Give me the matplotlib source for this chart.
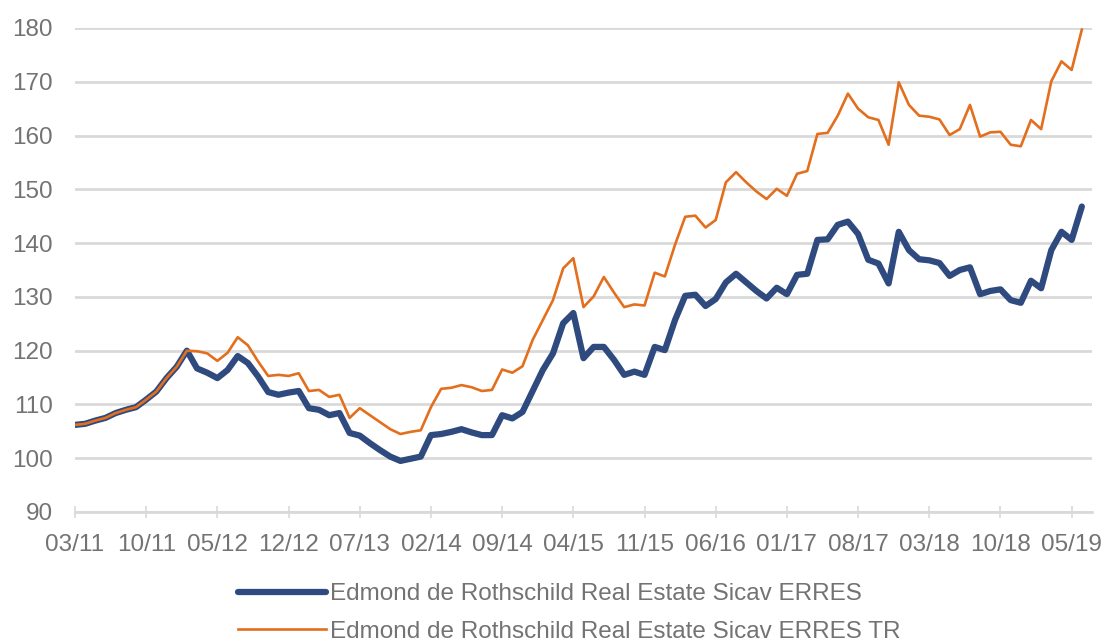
import matplotlib
matplotlib.use("Agg")
import matplotlib.pyplot as plt

# monthly index values, 03/11 .. 06/19
months = ["03/11", "04/11", "05/11", "06/11", "07/11", "08/11", "09/11", "10/11", "11/11", "12/11",
          "01/12", "02/12", "03/12", "04/12", "05/12", "06/12", "07/12", "08/12", "09/12", "10/12",
          "11/12", "12/12", "01/13", "02/13", "03/13", "04/13", "05/13", "06/13", "07/13", "08/13",
          "09/13", "10/13", "11/13", "12/13", "01/14", "02/14", "03/14", "04/14", "05/14", "06/14",
          "07/14", "08/14", "09/14", "10/14", "11/14", "12/14", "01/15", "02/15", "03/15", "04/15",
          "05/15", "06/15", "07/15", "08/15", "09/15", "10/15", "11/15", "12/15", "01/16", "02/16",
          "03/16", "04/16", "05/16", "06/16", "07/16", "08/16", "09/16", "10/16", "11/16", "12/16",
          "01/17", "02/17", "03/17", "04/17", "05/17", "06/17", "07/17", "08/17", "09/17", "10/17",
          "11/17", "12/17", "01/18", "02/18", "03/18", "04/18", "05/18", "06/18", "07/18", "08/18",
          "09/18", "10/18", "11/18", "12/18", "01/19", "02/19", "03/19", "04/19", "05/19", "06/19"]

erres = [106.2, 106.4, 107.0, 107.5, 108.4, 109.0, 109.5, 110.9, 112.4, 114.9,
         117.0, 120.0, 116.7, 115.9, 114.9, 116.4, 119.0, 117.7, 115.2, 112.3,
         111.8, 112.2, 112.5, 109.3, 109.0, 108.0, 108.4, 104.7, 104.2, 102.8,
         101.5, 100.3, 99.5, 99.9, 100.3, 104.3, 104.5, 104.9, 105.4, 104.8,
         104.3, 104.3, 108.0, 107.4, 108.6, 112.5, 116.4, 119.5, 125.1, 127.0,
         118.6, 120.7, 120.7, 118.3, 115.5, 116.1, 115.5, 120.7, 120.1, 125.7,
         130.2, 130.4, 128.3, 129.6, 132.7, 134.3, 132.7, 131.1, 129.7, 131.7,
         130.5, 134.1, 134.3, 140.6, 140.7, 143.4, 144.0, 141.7, 136.9, 136.2,
         132.5, 142.1, 138.7, 137.0, 136.8, 136.3, 133.9, 135.0, 135.5, 130.5,
         131.1, 131.4, 129.4, 128.9, 133.0, 131.6, 138.7, 142.1, 140.6, 146.8]

erres_tr = [106.2, 106.4, 107.0, 107.5, 108.4, 109.0, 109.5, 110.9, 112.4, 114.9,
            117.0, 120.0, 119.9, 119.5, 118.1, 119.6, 122.5, 121.0, 118.0, 115.3,
            115.5, 115.3, 115.8, 112.5, 112.7, 111.4, 111.8, 107.5, 109.3, 108.0,
            106.7, 105.4, 104.5, 104.9, 105.2, 109.5, 112.9, 113.1, 113.6, 113.2,
            112.5, 112.7, 116.5, 115.9, 117.1, 122.0, 125.7, 129.4, 135.3, 137.2,
            128.1, 130.1, 133.7, 130.8, 128.1, 128.6, 128.4, 134.5, 133.8, 139.7,
            144.9, 145.1, 142.9, 144.3, 151.3, 153.2, 151.3, 149.6, 148.2, 150.1,
            148.8, 152.9, 153.4, 160.3, 160.5, 163.7, 167.8, 165.0, 163.4, 162.9,
            158.3, 169.9, 165.7, 163.7, 163.5, 163.0, 160.1, 161.2, 165.7, 159.8,
            160.6, 160.7, 158.3, 158.0, 162.9, 161.2, 170.1, 173.8, 172.2, 179.7]

labels = ["Edmond de Rothschild Real Estate Sicav ERRES",
          "Edmond de Rothschild Real Estate Sicav ERRES TR"]

plt.rcParams['font.family'] = ['Liberation Sans', 'DejaVu Sans']

text_grey = "#737373"
grid_grey = "#d9d9d9"

fig = plt.figure(figsize=(11.05, 6.43), dpi=100)
ax = fig.add_axes([75 / 1105, 1 - 512 / 643, (1092 - 75) / 1105, (512 - 28) / 643])

x = list(range(len(months)))
l1, = ax.plot(x, erres, color="#2f4a7e", lw=4.5, solid_joinstyle="round", solid_capstyle="round", zorder=3)
l2, = ax.plot(x, erres_tr, color="#e36f1e", lw=1.9, solid_joinstyle="round", zorder=4)

ax.set_xlim(0, 100)
ax.set_ylim(90, 180)
ax.set_yticks(range(90, 181, 10))
ax.set_xticks(x[::7])
ax.set_xticklabels(months[::7])

ax.grid(axis="y", color=grid_grey, lw=2)
ax.set_axisbelow(True)
for s in ["top", "right", "left"]:
    ax.spines[s].set_visible(False)
ax.spines["bottom"].set_color(grid_grey)
ax.spines["bottom"].set_linewidth(2)

ax.tick_params(axis="y", length=0, pad=16, labelsize=17.5, labelcolor=text_grey)
ax.tick_params(axis="x", direction="inout", length=9, width=1.2, color=grid_grey,
               pad=11, labelsize=17.5, labelcolor=text_grey)

fig.legend([l1, l2], labels, loc="upper left", bbox_to_anchor=(238 / 1105, 1 - 583 / 643),
           frameon=False, fontsize=17.5, labelcolor=text_grey, handlelength=3.6,
           handletextpad=0.2, labelspacing=0.65, borderpad=0, borderaxespad=0)

fig.savefig("out.png", dpi=100)
